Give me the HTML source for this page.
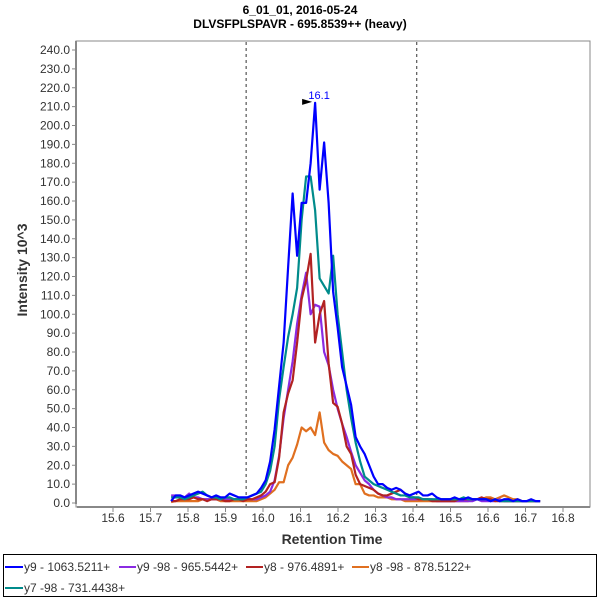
<!DOCTYPE html>
<html><head><meta charset="utf-8"><style>
body{margin:0;background:#fff;}
svg{display:block;font-family:"Liberation Sans",sans-serif;}
</style></head><body>
<svg id="chart" width="600" height="600" viewBox="0 0 600 600">
<rect width="600" height="600" fill="#fff"/>
<text x="300" y="14" text-anchor="middle" font-size="12" font-weight="bold">6_01_01, 2016-05-24</text>
<text x="300" y="28" text-anchor="middle" font-size="12" font-weight="bold">DLVSFPLSPAVR - 695.8539++ (heavy)</text>
<rect x="76" y="41" width="514" height="466" fill="none" stroke="#888" stroke-width="1"/>
<g id="axes"></g>
<g id="series"></g>
<text transform="translate(27,270) rotate(-90)" text-anchor="middle" font-size="14" font-weight="bold" fill="#333">Intensity 10^3</text>
<text x="332" y="544" text-anchor="middle" font-size="14" font-weight="bold" fill="#333">Retention Time</text>
<g>
<rect x="3.5" y="554.5" width="593" height="42" fill="none" stroke="#000" stroke-width="1"/>
<g><line x1="5" y1="567" x2="23" y2="567" stroke="#0000ff" stroke-width="2"/><text x="24" y="571" font-size="12" fill="#333">y9 - 1063.5211+</text></g>
<g><line x1="119" y1="567" x2="136" y2="567" stroke="#8a2be2" stroke-width="2"/><text x="137" y="571" font-size="12" fill="#333">y9 -98 - 965.5442+</text></g>
<g><line x1="246" y1="567" x2="263" y2="567" stroke="#b22222" stroke-width="2"/><text x="264" y="571" font-size="12" fill="#333">y8 - 976.4891+</text></g>
<g><line x1="352" y1="567" x2="369" y2="567" stroke="#e07020" stroke-width="2"/><text x="370" y="571" font-size="12" fill="#333">y8 -98 - 878.5122+</text></g>
<g><line x1="5" y1="588" x2="23" y2="588" stroke="#008b8b" stroke-width="2"/><text x="24" y="592" font-size="12" fill="#333">y7 -98 - 731.4438+</text></g>
</g>
</svg>
<script>
const times=[15.755,15.767,15.779,15.791,15.803,15.815,15.827,15.839,15.851,15.863,
15.875,15.887,15.899,15.911,15.923,15.935,15.947,15.959,15.971,15.983,
15.995,16.007,16.019,16.031,16.043,16.055,16.067,16.079,16.091,16.103,
16.115,16.127,16.139,16.151,16.163,16.175,16.187,16.199,16.211,16.223,
16.235,16.247,16.259,16.271,16.283,16.295,16.307,16.319,16.331,16.343,
16.355,16.367,16.379,16.391,16.403,16.415,16.427,16.439,16.451,16.463,
16.475,16.487,16.499,16.511,16.523,16.535,16.547,16.559,16.571,16.583,
16.595,16.607,16.619,16.631,16.643,16.655,16.667,16.679,16.691,16.703,
16.715,16.727,16.739];
const y9=[1,4,4,3,4,5,6,5,4,3, 4,3,3,5,4,3,3,3,4,5, 8,12,22,39,62,85,125,164,131,159,
159,180,212,166,191,159,112,93,72,62, 52,35,30,26,20,14,10,10,8,7, 8,7,5,4,5,6,4,4,5,3,
2,2,2,3,2,2,3,2,2,2, 2,1,2,1,2,2,1,2,1,1, 2,1,1];
const y7_98=[3,3,3,2,3,4,5,6,4,3, 3,2,3,3,2,2,2,3,4,5, 6,10,17,30,55,72,88,100,114,150,
173,173,155,119,115,111,131,100,80,60, 45,32,22,14,12,10,9,8,7,6, 5,4,4,3,3,3,2,2,2,2,
2,2,2,2,2,3,2,2,2,2, 2,1,2,1,1,1,1,1,1,1, 1,1,1];
const y8=[1,1,2,2,2,3,2,2,1,2, 2,2,1,1,2,2,1,2,2,3, 4,6,10,11,24,48,58,65,85,108,
118,132,85,100,107,74,53,51,42,30, 26,15,10,9,8,7,5,4,4,5, 6,7,5,3,3,2,2,2,1,1,
1,1,1,1,2,2,2,2,2,3, 2,2,1,1,1,1,1,1,1,1, 1,1,1];
const y9_98=[4,4,4,3,5,3,3,2,2,2, 2,2,2,2,2,2,2,2,2,2, 3,4,6,12,25,45,60,75,95,110,
122,100,105,104,80,73,60,50,42,35, 27,20,16,12,10,7,5,4,3,3, 2,2,2,2,2,2,2,2,2,1,
1,1,1,1,1,1,1,1,2,1, 1,1,1,2,1,1,1,1,1,1, 1,1,1];
const y8_98=[0.5,1,1,1,1,1,1,2,2,2, 2,1,1,1,1,1,1,1,1,1, 2,3,5,7,11,11,20,24,31,40,
38,40,36,48,32,28,26,25,22,20, 18,10,10,5,4,4,3,3,3,2, 2,2,1,1,1,1,1,1,1,1,
1,1,1,1,1,1,1,2,2,2, 3,3,2,3,4,3,2,2,1,1, 1,1,1];
const xTicks=[15.6,15.7,15.8,15.9,16.0,16.1,16.2,16.3,16.4,16.5,16.6,16.7,16.8];
const yTicks=[0,10,20,30,40,50,60,70,80,90,100,110,120,130,140,150,160,170,180,190,200,210,220,230,240];
const boundaries=[15.955,16.41];
const peakTime=16.139, peakValue=212, peakLabel="16.1";

const NS="http://www.w3.org/2000/svg";
function X(t){return 113+(t-15.6)*375;}
function Y(v){return 503-v*1.8875;}
function mk(tag,attrs,parent){const e=document.createElementNS(NS,tag);for(const k in attrs)e.setAttribute(k,attrs[k]);parent.appendChild(e);return e;}
const axes=document.getElementById('axes');
const ax=mk('line',{x1:76,y1:41,x2:76,y2:504,stroke:'#888','stroke-width':2},axes);


const bx=mk('line',{x1:77,y1:507,x2:590,y2:507,stroke:'#888','stroke-width':2},axes);


yTicks.forEach(v=>{
  mk('line',{x1:72,y1:Y(v),x2:76,y2:Y(v),stroke:'#888'},axes);
  const t=mk('text',{x:70,y:Y(v)+4,'text-anchor':'end','font-size':12,fill:'#333'},axes);
  t.textContent=v.toFixed(1);
  
  
});
xTicks.forEach(v=>{
  mk('line',{x1:X(v),y1:508,x2:X(v),y2:512,stroke:'#888'},axes);
  const t=mk('text',{x:X(v),y:522,'text-anchor':'middle','font-size':12,fill:'#333'},axes);
  t.textContent=v.toFixed(1);
  
  
});
boundaries.forEach(b=>{
  const l=mk('line',{x1:X(b),y1:42,x2:X(b),y2:506,stroke:'#333','stroke-dasharray':'3,3','stroke-width':1},axes);
  
  
});
const ser=document.getElementById('series');
const list=[[y8_98,'#e07020','series-y8-98'],[y9_98,'#8a2be2','series-y9-98'],[y8,'#b22222','series-y8'],[y7_98,'#008b8b','series-y7-98'],[y9,'#0000ff','series-y9']];
list.forEach(([vals,col,name])=>{
  const pts=vals.map((v,i)=>X(times[i]).toFixed(2)+','+Y(v).toFixed(2)).join(' ');
  const p=mk('polyline',{points:pts,fill:'none',stroke:col,'stroke-width':2.2,'stroke-linejoin':'round'},ser);
  
  
});
const px=X(peakTime),py=Y(peakValue);
const arr=mk('polygon',{points:(px-13)+','+(py-4)+' '+(px-3)+','+(py-1)+' '+(px-13)+','+(py+2),fill:'#000'},ser);


const pl=mk('text',{x:px+4,y:py-4,'text-anchor':'middle','font-size':11,fill:'#0000ff'},ser);
pl.textContent=peakLabel;


</script>
</body></html>
